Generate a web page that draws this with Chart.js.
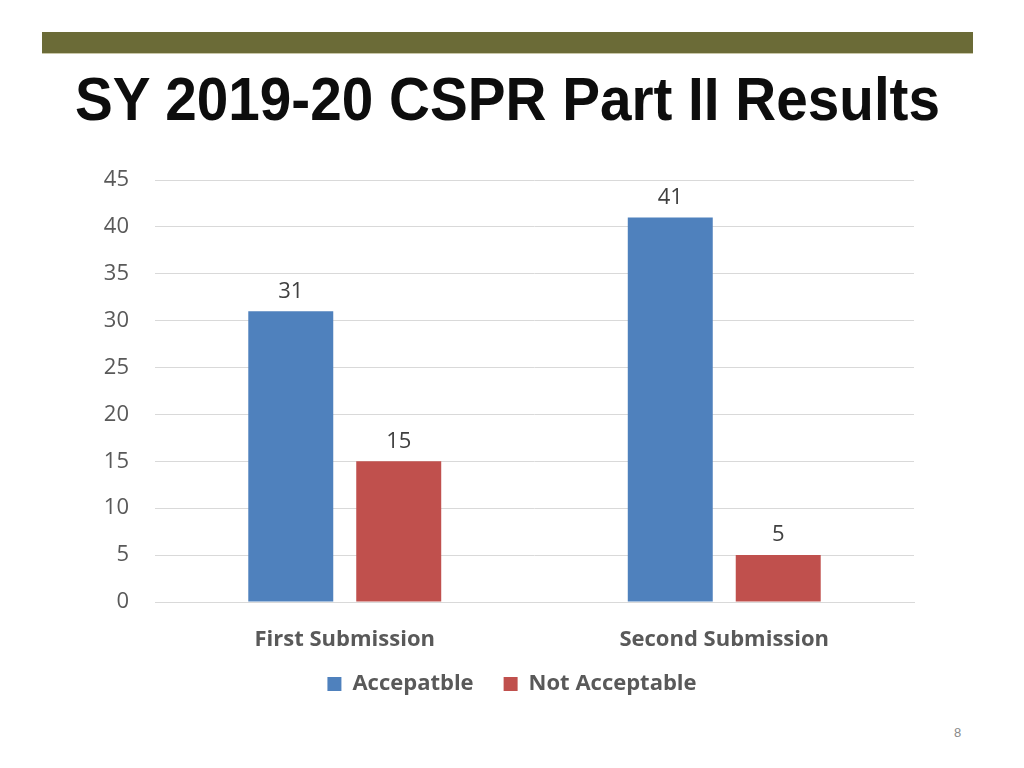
<!DOCTYPE html>
<html>
<head>
<meta charset="utf-8">
<script src="https://cdn.jsdelivr.net/npm/chart.js@4.4.0/dist/chart.umd.min.js"></script>
<style>
  html, body { margin: 0; padding: 0; background: #fff; }
  body { width: 1024px; height: 768px; position: relative; overflow: hidden; }
  #bar { position: absolute; left: 42px; top: 32px; width: 931px; height: 21px; background: #6b6b37; border-bottom: 1px solid #c9c7a8; }
  #title { position: absolute; left: 75px; top: 69px; font-family: "Liberation Sans", Arial, sans-serif; font-weight: bold; font-size: 61px; line-height: 61px; color: #0d0d0d; white-space: nowrap; transform-origin: 0 0; }
  #page { position: absolute; left: 954px; top: 725px; font-family: "Liberation Sans", Arial, sans-serif; font-size: 13px; color: #8a8a8a; }
  #wrap { position: absolute; left: 0; top: 0; width: 1024px; height: 768px; }
</style>
</head>
<body>
<div id="bar"></div>
<div id="title">SY 2019-20 CSPR Part II Results</div>
<div id="page">8</div>
<div id="wrap"><canvas id="c" width="1024" height="768"></canvas></div>
<script>
const categories = ["First Submission", "Second Submission"];
const seriesNames = ["Accepatble", "Not Acceptable"];
const acceptable = [31, 41];
const notAcceptable = [15, 5];
const yTicks = [0, 5, 10, 15, 20, 25, 30, 35, 40, 45];

// fit title width to reference
(function(){
  const t = document.getElementById('title');
  const w = t.getBoundingClientRect().width;
  t.style.transform = 'scaleX(' + (865 / w) + ')';
})();

const FONT = "'Open Sans', Lato, sans-serif";

const valueLabels = {
  id: 'valueLabels',
  afterDatasetsDraw(chart) {
    const ctx = chart.ctx;
    ctx.save();
    ctx.font = "22px " + FONT;
    ctx.fillStyle = '#404040';
    ctx.textAlign = 'center';
    ctx.textBaseline = 'bottom';
    chart.data.datasets.forEach((ds, i) => {
      chart.getDatasetMeta(i).data.forEach((bar, j) => {
        ctx.fillText(String(ds.data[j]), bar.x, bar.y - 9);
      });
    });
    ctx.restore();
  }
};

new Chart(document.getElementById('c'), {
  type: 'bar',
  data: {
    labels: categories,
    datasets: [
      { label: seriesNames[0], data: acceptable, backgroundColor: '#4f81bd' },
      { label: seriesNames[1], data: notAcceptable, backgroundColor: '#c0504d' }
    ]
  },
  options: {
    responsive: false,
    animation: false,
    devicePixelRatio: 1,
    layout: { padding: { left: 0, right: 0, top: 180, bottom: 63 } },
    datasets: { bar: { categoryPercentage: 0.569, barPercentage: 0.787 } },
    plugins: {
      legend: {
        position: 'bottom',
        labels: {
          font: { family: FONT, size: 22, weight: 'bold' },
          color: '#595959',
          boxWidth: 14,
          boxHeight: 14,
          padding: 30
        }
      },
      tooltip: { enabled: false }
    },
    scales: {
      x: {
        grid: { display: false },
        border: { display: true, color: '#d9d9d9' },
        ticks: { font: { family: FONT, size: 22, weight: 'bold' }, color: '#595959', padding: 17 },
        afterFit(s) { s.height = 41; s._computeLabelArea = () => null; }
      },
      y: {
        min: 0, max: 45,
        afterBuildTicks(s) { s.ticks = yTicks.map(v => ({ value: v })); },
        grid: { color: '#d9d9d9', drawTicks: false },
        border: { display: false },
        ticks: { font: { family: FONT, size: 22 }, color: '#595959', padding: 26 },
        afterFit(s) { s.width = 155; }
      },
      yRight: {
        position: 'right',
        min: 0, max: 45,
        grid: { display: false, drawTicks: false },
        border: { display: false },
        ticks: { display: false },
        afterFit(s) { s.width = 110; }
      }
    }
  },
  plugins: [valueLabels]
});
</script>
</body>
</html>
